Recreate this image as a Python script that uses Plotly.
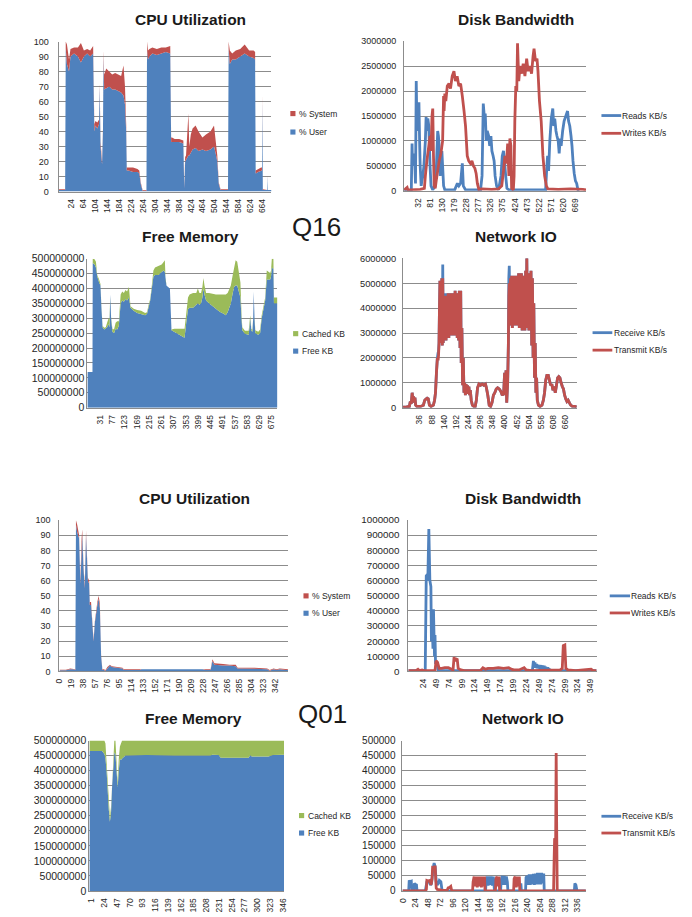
import plotly.graph_objects as go

# ---------------- data ----------------
# Q16 - CPU Utilization (stacked area: % User, % System)
cpu_q16_x = [-20, 2, 4, 8, 15, 20, 32, 45, 55, 65, 76, 86, 96, 100, 104, 110, 116, 118, 121, 126,
             129, 131, 133, 140, 150, 160, 170, 180, 190, 198, 203, 207, 209, 215, 230, 245, 251, 256, 262, 275,
             277, 280, 285, 295, 310, 325, 340, 355, 358, 361, 370, 385, 399, 402, 405, 408, 416, 419, 424, 430,
             440, 450, 463, 475, 490, 502, 508, 513, 518, 524, 549, 551, 555, 563, 575, 590, 605, 620, 635, 640,
             642, 650, 660, 663, 664, 666, 681, 682, 683, 695]
cpu_q16_user = [1, 1, 95, 85, 80, 90, 92, 90, 86, 90, 92, 90, 92, 40, 44, 42, 45, 70, 30, 18,
                40, 90, 68, 69, 70, 68, 68, 67, 66, 64, 58, 40, 14, 14, 13, 13, 12, 5, 0.5, 0.5,
                95, 88, 90, 92, 91, 92, 93, 92, 33, 33, 33, 33, 32, 2, 20, 21, 24, 24, 26, 28,
                29, 27, 28, 27, 28, 30, 25, 20, 5, 1, 1, 95, 85, 88, 88, 90, 92, 90, 89, 88,
                12, 13, 14, 14, 60, 1, 1, 10, 1, 1]
cpu_q16_system = [0.5, 0.5, 5, 13, 8, 5, 4, 6, 13, 4, 3, 4, 5, 5, 3, 4, 3, 2, 3, 2,
                  2, 4, 10, 13, 10, 10, 11, 11, 11, 20, 12, 5, 2, 2, 3, 2, 2, 1, 0.5, 0.5,
                  5, 6, 5, 4, 4, 4, 3, 5, 3, 3, 2, 2, 2, 1, 3, 3, 28, 6, 12, 14,
                  15, 13, 8, 11, 12, 14, 5, 4, 1, 0.5, 0.5, 5, 9, 4, 6, 5, 6, 4, 5, 5,
                  2, 2, 2, 2, 5, 0.5, 0, 1, 0, 0]
cpu_q16_ticks = [24, 64, 104, 144, 184, 224, 264, 304, 344, 384, 424, 464, 504, 544, 584, 624, 664]

# Q16 - Disk Bandwidth (KB/s)
disk_q16_read_x = [-25, 4, 7, 9, 11, 14, 17, 21, 24, 27, 31, 35, 38, 40, 44, 47, 51, 55, 61, 64,
                   67, 71, 75, 80, 84, 91, 101, 106, 111, 114, 117, 121, 124, 128, 131, 135, 140, 180, 191, 197,
                   204, 211, 215, 224, 285, 291, 296, 300, 304, 308, 312, 318, 322, 327, 331, 336, 340, 344, 350, 358,
                   368, 373, 378, 382, 387, 392, 400, 549, 553, 557, 561, 566, 572, 578, 582, 586, 591, 595, 600, 604,
                   608, 612, 618, 624, 631, 638, 642, 647, 652, 656, 660, 665, 670, 675, 680, 685]
disk_q16_read = [0, 0, 0.95e6, 0.5e6, 0.75e6, 0.6e6, 0.7e6, 0.15e6, 2.2e6, 1.2e6,
                 1.75e6, 1.75e6, 0.9e6, 0.5e6, 0.1e6, 0.2e6, 0.3e6, 0.5e6, 1.0e6, 1.48e6,
                 1.2e6, 1.45e6, 1.3e6, 0.5e6, 0.1e6, 0.02e6, 0.1e6, 0.5e6, 1.2e6, 1.1e6,
                 0.9e6, 0.3e6, 0.4e6, 0.8e6, 0.5e6, 0.1e6, 0.02e6, 0.02e6, 0.15e6, 0.1e6,
                 0.15e6, 0.55e6, 0.1e6, 0.02e6, 0.02e6, 0.3e6, 1.75e6, 1.5e6, 1.55e6, 1.0e6,
                 1.2e6, 1.1e6, 0.9e6, 1.1e6, 0.8e6, 0.7e6, 0.6e6, 0.3e6, 0.1e6, 0.02e6,
                 0.3e6, 0.7e6, 0.8e6, 0.6e6, 0.3e6, 0.05e6, 0.02e6, 0.02e6, 0.4e6, 0.7e6,
                 0.4e6, 1.0e6, 1.45e6, 1.65e6, 1.3e6, 1.45e6, 1.2e6, 1.1e6, 1.0e6, 0.75e6,
                 1.05e6, 0.9e6, 1.2e6, 1.4e6, 1.5e6, 1.6e6, 1.4e6, 1.3e6, 1.1e6, 0.9e6,
                 0.6e6, 0.35e6, 0.2e6, 0.15e6, 0.02e6, 0]
disk_q16_write_x = [-25, -13, -10, 4, 40, 57, 61, 67, 75, 80, 84, 88, 91, 94, 97, 101, 105, 111, 117, 124,
                    131, 135, 137, 140, 144, 150, 157, 163, 170, 177, 183, 190, 197, 204, 211, 218, 224, 231, 237, 244,
                    250, 256, 262, 267, 272, 278, 291, 330, 358, 371, 378, 384, 390, 395, 400, 404, 408, 411, 418, 421,
                    424, 428, 432, 435, 440, 445, 452, 458, 465, 472, 478, 485, 492, 498, 502, 508, 514, 518, 524, 531,
                    538, 545, 552, 558, 600, 650, 700, 713]
disk_q16_write = [0.02e6, 0.07e6, 0.02e6, 0.02e6, 0.03e6, 0.05e6, 0.3e6, 0.6e6, 0.9e6, 1.1e6,
                  0.8e6, 1.5e6, 1.65e6, 0.7e6, 0.1e6, 0.05e6, 0.2e6, 0.4e6, 0.6e6, 0.75e6,
                  1.0e6, 1.9e6, 1.6e6, 1.95e6, 1.8e6, 2.1e6, 2.15e6, 2.05e6, 2.3e6, 2.4e6,
                  2.2e6, 2.3e6, 2.1e6, 2.15e6, 1.9e6, 1.6e6, 1.3e6, 0.7e6, 0.6e6, 0.55e6,
                  0.6e6, 0.5e6, 0.45e6, 0.35e6, 0.15e6, 0.03e6, 0.04e6, 0.03e6, 0.04e6, 0.1e6,
                  0.4e6, 0.7e6, 0.55e6, 0.95e6, 0.3e6, 1.05e6, 0.9e6, 0.05e6, 0.02e6, 0.3e6,
                  1.4e6, 2.1e6, 2.0e6, 2.96e6, 2.2e6, 2.5e6, 2.35e6, 2.55e6, 2.3e6, 2.65e6,
                  2.4e6, 2.5e6, 2.35e6, 2.7e6, 2.85e6, 2.6e6, 2.65e6, 2.4e6, 1.8e6, 1.4e6,
                  0.7e6, 0.3e6, 0.1e6, 0.04e6, 0.03e6, 0.04e6, 0.03e6, 0.02e6]
disk_q16_ticks = [32, 81, 130, 179, 228, 277, 326, 375, 424, 473, 522, 571, 620, 669]

# Q16 - Free Memory (stacked area: Free KB, Cached KB)
mem_q16_x = [-17, 2, 3, 10, 15, 20, 27, 32, 36, 40, 46, 52, 57, 62, 66, 69, 72, 77, 83, 89,
             95, 101, 108, 114, 120, 126, 132, 139, 145, 151, 157, 170, 185, 200, 207, 213, 219, 225, 231, 237,
             250, 262, 270, 274, 277, 280, 286, 293, 299, 310, 325, 340, 348, 355, 361, 367, 380, 392, 398, 404,
             410, 415, 419, 423, 429, 440, 455, 466, 480, 495, 503, 510, 515, 522, 528, 534, 540, 546, 552, 558,
             562, 565, 575, 589, 592, 595, 599, 603, 606, 608, 611, 614, 625, 632, 638, 645, 651, 657, 664, 670,
             673, 676, 682, 684, 697]
mem_q16_free = [120e6, 120e6, 485e6, 480e6, 470e6, 440e6, 420e6, 410e6, 330e6, 270e6,
                262e6, 265e6, 270e6, 280e6, 270e6, 380e6, 300e6, 255e6, 250e6, 265e6,
                262e6, 275e6, 350e6, 360e6, 355e6, 365e6, 360e6, 370e6, 335e6, 330e6,
                325e6, 318e6, 315e6, 310e6, 315e6, 335e6, 360e6, 400e6, 440e6, 445e6,
                445e6, 455e6, 460e6, 455e6, 425e6, 410e6, 405e6, 400e6, 260e6, 255e6,
                248e6, 240e6, 235e6, 290e6, 330e6, 335e6, 335e6, 345e6, 350e6, 345e6,
                350e6, 370e6, 400e6, 380e6, 360e6, 350e6, 340e6, 330e6, 322e6, 315e6,
                310e6, 320e6, 330e6, 350e6, 380e6, 405e6, 410e6, 410e6, 390e6, 370e6,
                300e6, 260e6, 248e6, 245e6, 270e6, 300e6, 258e6, 255e6, 300e6, 390e6,
                300e6, 250e6, 245e6, 250e6, 300e6, 330e6, 360e6, 430e6, 430e6, 430e6,
                440e6, 470e6, 465e6, 350e6, 350e6]
mem_q16_cached = [0, 0, 15e6, 18e6, 20e6, 5e6, 10e6, 5e6, 5e6, 5e6,
                  6e6, 5e6, 15e6, 18e6, 30e6, 0, 5e6, 10e6, 12e6, 20e6,
                  28e6, 15e6, 30e6, 30e6, 30e6, 30e6, 30e6, 35e6, 5e6, 5e6,
                  7e6, 10e6, 10e6, 8e6, 5e6, 10e6, 5e6, 10e6, 20e6, 25e6,
                  30e6, 25e6, 30e6, 40e6, 0, 0, 0, 0, 2e6, 10e6,
                  17e6, 25e6, 30e6, 30e6, 40e6, 45e6, 50e6, 40e6, 50e6, 40e6,
                  35e6, 35e6, 35e6, 30e6, 25e6, 35e6, 42e6, 50e6, 58e6, 65e6,
                  70e6, 65e6, 65e6, 60e6, 60e6, 65e6, 85e6, 80e6, 70e6, 50e6,
                  20e6, 10e6, 10e6, 13e6, 15e6, 10e6, 7e6, 7e6, 0, 0,
                  5e6, 10e6, 10e6, 12e6, 10e6, 10e6, 10e6, 30e6, 25e6, 22e6,
                  20e6, 30e6, 35e6, 20e6, 20e6]
mem_q16_ticks = [31, 77, 123, 169, 215, 261, 307, 353, 399, 445, 491, 537, 583, 629, 675]

# Q16 - Network IO (KB/s)
net_q16_x = [-35, -20, -8, -4, 0, 4, 7, 10, 13, 16, 19, 24, 40, 52, 58, 63, 68, 73, 78, 85,
             95, 100, 104, 108, 112, 115, 117, 119, 121, 123, 125, 127, 129, 131, 133, 135, 137, 140, 143, 146,
             149, 152, 155, 158, 161, 164, 167, 170, 173, 176, 179, 182, 185, 188, 191, 194, 197, 200, 203, 206,
             209, 212, 214, 217, 220, 223, 226, 229, 232, 235, 238, 241, 244, 247, 250, 253, 257, 262, 268, 274,
             279, 284, 290, 297, 304, 311, 318, 322, 328, 334, 340, 346, 352, 358, 364, 370, 377, 384, 390, 396,
             400, 403, 406, 409, 413, 416, 418, 420, 422, 425, 427, 430, 433, 436, 439, 442, 445, 448, 451, 454,
             457, 460, 463, 466, 469, 472, 475, 478, 481, 484, 487, 490, 493, 495, 498, 501, 504, 507, 510, 513,
             516, 519, 522, 525, 528, 531, 534, 537, 540, 545, 552, 560, 566, 571, 576, 581, 587, 592, 597, 602,
             607, 612, 617, 622, 627, 632, 637, 642, 647, 652, 657, 662, 667, 672, 677, 683, 690, 700, 709]
net_q16_transmit = [0.02e6, 0.03e6, 0.05e6, 0.25e6, 0.15e6, 0.6e6, 0.3e6, 0.45e6, 0.2e6, 0.4e6,
                    0.1e6, 0.05e6, 0.05e6, 0.1e6, 0.3e6, 0.35e6, 0.38e6, 0.35e6, 0.1e6, 0.05e6,
                    0.1e6, 0.3e6, 0.6e6, 1.4e6, 2.0e6, 1.9e6, 2.1e6, 2.6e6, 4.0e6, 5.1e6,
                    3.2e6, 5.0e6, 2.6e6, 5.2e6, 2.5e6, 5.2e6, 2.6e6, 4.4e6, 2.7e6, 4.5e6,
                    2.7e6, 4.5e6, 2.8e6, 4.6e6, 2.8e6, 4.5e6, 2.9e6, 4.6e6, 2.9e6, 4.4e6,
                    2.9e6, 4.6e6, 2.9e6, 4.7e6, 2.9e6, 4.5e6, 2.8e6, 4.6e6, 2.7e6, 4.7e6,
                    2.4e6, 4.7e6, 1.8e6, 3.2e6, 0.9e6, 2.0e6, 0.6e6, 1.0e6, 0.5e6, 0.95e6,
                    0.55e6, 0.9e6, 0.6e6, 0.85e6, 0.5e6, 0.7e6, 0.3e6, 0.1e6, 0.05e6, 0.05e6,
                    0.3e6, 0.8e6, 0.95e6, 0.9e6, 0.95e6, 0.9e6, 0.95e6, 0.8e6, 0.5e6, 0.1e6,
                    0.05e6, 0.2e6, 0.5e6, 0.6e6, 0.75e6, 0.8e6, 0.75e6, 0.65e6, 0.5e6, 0.6e6,
                    1.4e6, 0.5e6, 1.5e6, 0.2e6, 1.0e6, 2.5e6, 4.5e6, 5.0e6, 3.4e6, 5.2e6,
                    3.3e6, 5.3e6, 3.2e6, 5.3e6, 3.4e6, 5.2e6, 3.3e6, 5.3e6, 3.5e6, 5.3e6,
                    3.3e6, 5.4e6, 3.2e6, 5.2e6, 3.3e6, 5.4e6, 3.1e6, 5.3e6, 3.2e6, 5.2e6,
                    3.1e6, 5.5e6, 3.3e6, 6.0e6, 3.2e6, 5.4e6, 3.1e6, 5.4e6, 3.2e6, 5.5e6,
                    2.5e6, 5.2e6, 2.0e6, 4.2e6, 1.2e6, 2.6e6, 0.6e6, 1.2e6, 0.3e6, 0.1e6,
                    0.05e6, 0.1e6, 0.3e6, 0.6e6, 1.1e6, 1.3e6, 1.3e6, 1.1e6, 0.9e6, 0.95e6,
                    0.7e6, 0.85e6, 0.6e6, 0.9e6, 1.2e6, 1.25e6, 1.2e6, 1.0e6, 0.85e6, 0.75e6,
                    0.5e6, 0.35e6, 0.25e6, 0.3e6, 0.2e6, 0.1e6, 0.05e6, 0.05e6, 0.03e6]
net_q16_receive = [0.02e6, 0.03e6, 0.05e6, 0.25e6, 0.15e6, 0.6e6, 0.3e6, 0.45e6, 0.2e6, 0.4e6,
                   0.1e6, 0.05e6, 0.05e6, 0.1e6, 0.3e6, 0.35e6, 0.38e6, 0.35e6, 0.1e6, 0.05e6,
                   0.1e6, 0.3e6, 0.6e6, 1.4e6, 2.0e6, 2.2e6, 2.25e6, 2.6e6, 4.0e6, 5.1e6,
                   3.2e6, 5.0e6, 2.6e6, 5.2e6, 2.5e6, 5.75e6, 2.6e6, 4.4e6, 2.7e6, 4.6e6,
                   2.7e6, 4.6e6, 2.8e6, 4.6e6, 2.8e6, 4.5e6, 2.9e6, 4.6e6, 2.9e6, 4.4e6,
                   2.9e6, 4.6e6, 2.9e6, 4.7e6, 2.9e6, 4.5e6, 2.8e6, 4.6e6, 2.7e6, 4.7e6,
                   2.4e6, 4.7e6, 1.8e6, 3.2e6, 0.9e6, 2.0e6, 0.6e6, 1.0e6, 0.5e6, 0.95e6,
                   0.55e6, 0.9e6, 0.6e6, 0.85e6, 0.5e6, 0.7e6, 0.3e6, 0.1e6, 0.05e6, 0.05e6,
                   0.3e6, 0.8e6, 0.95e6, 0.9e6, 0.95e6, 0.9e6, 0.95e6, 0.8e6, 0.5e6, 0.1e6,
                   0.05e6, 0.2e6, 0.5e6, 0.6e6, 0.75e6, 0.8e6, 0.75e6, 0.65e6, 0.5e6, 0.6e6,
                   1.4e6, 0.5e6, 1.5e6, 0.2e6, 1.0e6, 2.5e6, 5.2e6, 5.7e6, 3.4e6, 5.2e6,
                   3.3e6, 5.3e6, 3.2e6, 5.3e6, 3.4e6, 5.2e6, 3.3e6, 5.3e6, 3.5e6, 5.3e6,
                   3.3e6, 5.4e6, 3.2e6, 5.2e6, 3.3e6, 5.4e6, 3.1e6, 5.3e6, 3.2e6, 5.2e6,
                   3.1e6, 5.5e6, 3.3e6, 6.0e6, 3.2e6, 5.4e6, 3.1e6, 5.4e6, 3.2e6, 5.5e6,
                   2.5e6, 5.2e6, 2.0e6, 4.2e6, 1.2e6, 2.6e6, 0.6e6, 1.2e6, 0.3e6, 0.1e6,
                   0.05e6, 0.1e6, 0.3e6, 0.6e6, 1.1e6, 1.3e6, 1.3e6, 1.1e6, 0.9e6, 0.95e6,
                   0.7e6, 0.85e6, 0.6e6, 0.9e6, 1.2e6, 1.25e6, 1.2e6, 1.0e6, 0.85e6, 0.75e6,
                   0.5e6, 0.35e6, 0.25e6, 0.3e6, 0.2e6, 0.1e6, 0.05e6, 0.05e6, 0.03e6]
net_q16_ticks = [36, 88, 140, 192, 244, 296, 348, 400, 452, 504, 556, 608, 660]

# Q01 - CPU Utilization
cpu_q01_x = [0, 10, 17, 22, 25, 26, 28, 31, 33, 35, 36, 38, 40, 42, 43, 45, 47, 48, 50, 52,
             54, 56, 58, 60, 62, 64, 66, 68, 70, 73, 76, 80, 83, 90, 100, 102, 128, 130, 227, 232,
             240, 243, 246, 260, 270, 280, 283, 290, 310, 330, 334, 340, 345, 350, 360, 363]
cpu_q01_user = [0.8, 0.8, 1.5, 1.5, 1, 97, 92, 88, 58, 85, 90, 68, 55, 90, 82, 60, 58, 44, 44, 30,
                20, 32, 40, 44, 48, 42, 10, 1, 1, 0.5, 2, 4, 3, 2.5, 2, 1, 1, 1.5, 1.5, 1,
                1, 7, 4.5, 4, 4, 3.5, 2, 2, 2, 1.5, 0.5, 1.5, 1, 1.5, 1, 1]
cpu_q01_system = [0.4, 0.4, 0.5, 0.5, 0.5, 3, 5, 2, 2, 3, 4, 2, 2, 3, 3, 2, 2, 2, 2, 1,
                  1, 1, 2, 2, 2, 3, 1, 0.5, 0.5, 0.5, 1, 0.5, 0.5, 0.5, 0.5, 0.5, 0.5, 0.5, 0.5, 0.5,
                  0.5, 1, 1, 1, 0.5, 1, 0.5, 0.5, 0.5, 0.5, 0.5, 0.5, 0.5, 0.5, 0.5, 0.5]
cpu_q01_ticks = [0, 19, 38, 57, 76, 95, 114, 133, 152, 171, 190, 209, 228, 247, 266, 285, 304, 323, 342]

# Q01 - Disk Bandwidth (KB/s)
disk_q01_read_x = [-5, 28, 30, 32, 33, 35, 37, 39, 40, 42, 43, 44, 45, 46, 47, 48, 50, 53, 56, 236,
                   238, 239, 241, 242, 244, 245, 247, 248, 250, 251, 253, 254, 256, 257, 259, 260, 262, 264, 266, 268,
                   270, 273, 361]
disk_q01_read = [5e3, 5e3, 630e3, 640e3, 600e3, 940e3, 600e3, 560e3, 200e3, 260e3,
                 150e3, 410e3, 250e3, 100e3, 240e3, 50e3, 70e3, 10e3, 5e3, 5e3,
                 70e3, 30e3, 60e3, 25e3, 50e3, 20e3, 45e3, 20e3, 40e3, 15e3,
                 42e3, 20e3, 40e3, 18e3, 38e3, 15e3, 30e3, 10e3, 25e3, 10e3,
                 12e3, 5e3, 5e3]
disk_q01_write_x = [-5, 10, 14, 17, 22, 26, 47, 49, 52, 55, 60, 66, 73, 79, 82, 84, 86, 88, 90, 92,
                    97, 104, 135, 140, 145, 150, 160, 170, 180, 190, 195, 200, 210, 220, 224, 233, 290, 294, 296, 299,
                    301, 305, 320, 335, 350, 354, 361]
disk_q01_write = [5e3, 5e3, 15e3, 5e3, 10e3, 5e3, 5e3, 70e3, 60e3, 20e3,
                  20e3, 25e3, 25e3, 15e3, 10e3, 95e3, 70e3, 80e3, 85e3, 20e3,
                  10e3, 5e3, 5e3, 25e3, 15e3, 20e3, 20e3, 25e3, 20e3, 25e3,
                  15e3, 10e3, 10e3, 25e3, 10e3, 5e3, 10e3, 20e3, 170e3, 175e3,
                  20e3, 10e3, 5e3, 10e3, 15e3, 5e3, 5e3]
disk_q01_ticks = [24, 49, 74, 99, 124, 149, 174, 199, 224, 249, 274, 299, 324, 349]

# Q01 - Free Memory
mem_q01_x = [-3, 20, 24, 26, 28, 30, 32, 34, 36, 38, 40, 42, 44, 46, 48, 50, 52, 54, 56, 62,
             100, 150, 200, 215, 219, 230, 234, 260, 284, 287, 290, 320, 328, 348]
mem_q01_free = [465e6, 465e6, 455e6, 440e6, 400e6, 320e6, 270e6, 230e6, 260e6, 350e6,
                430e6, 460e6, 455e6, 400e6, 345e6, 400e6, 440e6, 435e6, 440e6, 450e6,
                452e6, 450e6, 450e6, 450e6, 453e6, 452e6, 443e6, 443e6, 443e6, 451e6,
                447e6, 447e6, 452e6, 453e6]
mem_q01_cached = [35e6, 35e6, 45e6, 50e6, 30e6, 20e6, 15e6, 15e6, 20e6, 20e6,
                  30e6, 40e6, 45e6, 30e6, 15e6, 40e6, 40e6, 55e6, 60e6, 50e6,
                  48e6, 50e6, 50e6, 50e6, 47e6, 48e6, 57e6, 57e6, 57e6, 49e6,
                  53e6, 53e6, 48e6, 47e6]
mem_q01_ticks = [1, 24, 47, 70, 93, 116, 139, 162, 185, 208, 231, 254, 277, 300, 323, 346]

# Q01 - Network IO (KB/s)
net_q01_receive_x = [-1, 11, 12, 14, 16, 17, 18, 21, 22, 24, 26, 27, 43, 46, 50, 53, 55, 57, 59, 60,
                     62, 64, 66, 68, 70, 72, 73, 75, 76, 159, 160, 162, 164, 166, 168, 170, 172, 174, 176, 177,
                     188, 189, 191, 193, 195, 197, 199, 201, 202, 226, 227, 228, 235, 236, 237, 239, 241, 243, 245, 247,
                     249, 251, 253, 255, 257, 259, 261, 263, 265, 267, 269, 271, 272, 330, 331, 333, 335, 352]
net_q01_receive = [0, 0, 35e3, 30e3, 32e3, 5e3, 0, 0, 25e3, 22e3,
                   20e3, 0, 0, 30e3, 32e3, 20e3, 25e3, 60e3, 85e3, 93e3,
                   80e3, 30e3, 20e3, 25e3, 35e3, 32e3, 30e3, 5e3, 0, 0,
                   30e3, 48e3, 18e3, 48e3, 20e3, 48e3, 18e3, 48e3, 5e3, 0,
                   0, 35e3, 50e3, 20e3, 50e3, 20e3, 48e3, 30e3, 0, 0,
                   25e3, 0, 0, 0, 45e3, 50e3, 20e3, 55e3, 20e3, 55e3,
                   22e3, 57e3, 20e3, 58e3, 22e3, 60e3, 22e3, 60e3, 22e3, 60e3,
                   25e3, 58e3, 0, 0, 25e3, 20e3, 0, 0]
net_q01_transmit_x = [-1, 43, 45, 46, 49, 52, 54, 56, 57, 59, 60, 62, 63, 64, 66, 75, 85, 87, 90, 92,
                      94, 134, 135, 137, 139, 141, 143, 145, 147, 149, 151, 153, 155, 157, 158, 178, 179, 181, 183, 185,
                      186, 213, 214, 216, 218, 220, 222, 224, 225, 290, 291, 292, 294, 295, 296, 297, 352]
net_q01_transmit = [0, 0, 5e3, 35e3, 33e3, 35e3, 20e3, 40e3, 77e3, 75e3,
                    80e3, 80e3, 40e3, 10e3, 5e3, 3e3, 2e3, 10e3, 12e3, 15e3,
                    0, 0, 30e3, 48e3, 15e3, 48e3, 12e3, 48e3, 15e3, 48e3,
                    12e3, 48e3, 15e3, 48e3, 0, 0, 40e3, 48e3, 15e3, 48e3,
                    0, 0, 40e3, 48e3, 12e3, 48e3, 15e3, 48e3, 0, 0,
                    100e3, 175e3, 170e3, 459e3, 200e3, 0, 0]
net_q01_ticks = [0, 24, 48, 72, 96, 120, 144, 168, 192, 216, 240, 264, 288, 312, 336]

cpu_labels = ["% System", "% User"]
disk_labels = ["Reads KB/s", "Writes KB/s"]
mem_labels = ["Cached KB", "Free KB"]
net_labels = ["Receive KB/s", "Transmit KB/s"]
titles = ["CPU Utilization", "Disk Bandwidth", "Free Memory", "Network IO"]
sections = ["Q16", "Q01"]

# ---------------- styling / layout ----------------
W, H = 692, 917
BLUE, RED, GREEN = "#4F81BD", "#C0504D", "#9BBB59"
GRID = "#8C8C8C"
TXT = "#262626"
FONT = "Liberation Sans, Arial, sans-serif"


def fx(px):
    return px / W


def fy(py):
    return 1 - py / H


fig = go.Figure()
annotations = []
shapes = []

panels = [
    dict(n=1, box=(54.3, 36, 270, 188), xr=[-20, 695], ticks=cpu_q16_ticks, yr=[0, 100], dt=10,
         yfs=9, ysd=7, title=(titles[0], 187.7, 14),
         leg=("sq", cpu_labels, [RED, BLUE], 291.7, [109, 127.7], 296)),
    dict(n=2, box=(404.3, 35.7, 588.7, 187.3), xr=[-25.5, 713], ticks=disk_q16_ticks, yr=[0, 3e6], dt=5e5,
         yfs=9, ysd=5, title=(titles[1], 518, 14),
         leg=("ln", disk_labels, [BLUE, RED], (604.3, 624.3), [111, 129], 623.5)),
    dict(n=3, box=(83.5, 256, 276, 407), xr=[-17, 697], ticks=mem_q16_ticks, yr=[0, 5e8], dt=5e7,
         yfs=10.5, ysd=0, title=(titles[2], 187.8, 234),
         leg=("sq", mem_labels, [GREEN, BLUE], 294.5, [332, 349.7], 298.5)),
    dict(n=4, box=(403.3, 255.7, 579.3, 407), xr=[-35, 709], ticks=net_q16_ticks, yr=[0, 6e6], dt=1e6,
         yfs=9.3, ysd=4, title=(titles[3], 517.3, 234),
         leg=("ln", net_labels, [BLUE, RED], (595.3, 615.3), [331, 348.7], 614.5)),
    dict(n=5, box=(55, 521, 287, 674.3), xr=[-0.5, 363.5], ticks=cpu_q01_ticks, yr=[0, 100], dt=10,
         yfs=9, ysd=6, title=(titles[0], 192, 499),
         leg=("sq", cpu_labels, [RED, BLUE], 305, [597.7, 615.3], 309.5)),
    dict(n=6, box=(408.7, 520.7, 599.3, 674.3), xr=[-4.7, 360.5], ticks=disk_q01_ticks, yr=[0, 1e6], dt=1e5,
         yfs=9.8, ysd=6, title=(titles[1], 524.7, 499),
         leg=("ln", disk_labels, [BLUE, RED], (612.7, 633.3), [597.7, 615], 632.5)),
    dict(n=7, box=(85.5, 744.3, 282.7, 896.7), xr=[-3, 348], ticks=mem_q01_ticks, yr=[0, 5e8], dt=5e7,
         yfs=10.5, ysd=0, title=(titles[2], 191.2, 722),
         leg=("sq", mem_labels, [GREEN, BLUE], 300.5, [820.3, 838], 304.5)),
    dict(n=8, box=(402.7, 744.3, 588.7, 896.7), xr=[-1, 352.5], ticks=net_q01_ticks, yr=[0, 5e5], dt=5e4,
         yfs=10, ysd=4, title=(titles[3], 524.7, 722),
         leg=("ln", net_labels, [BLUE, RED], (604.3, 624.3), [821, 838], 623.5)),
]

layout_axes = {}
for p in panels:
    n = p["n"]
    sfx = "" if n == 1 else str(n)
    l, t, r, b = p["box"]
    layout_axes["xaxis" + sfx] = dict(
        domain=[fx(l), fx(r)], range=p["xr"], anchor="y" + sfx,
        tickmode="array", tickvals=p["ticks"], ticktext=[str(v) for v in p["ticks"]],
        tickangle=-90, tickfont=dict(size=8.5, color=TXT, family=FONT),
        showgrid=False, zeroline=False, showline=True, linecolor=GRID, linewidth=1,
        ticks="", ticklabelstandoff=3, fixedrange=True)
    layout_axes["yaxis" + sfx] = dict(
        domain=[fy(b), fy(t)], range=p["yr"], anchor="x" + sfx,
        tickmode="linear", tick0=0, dtick=p["dt"], tickformat="d",
        tickfont=dict(size=p["yfs"], color=TXT, family=FONT),
        showgrid=True, gridcolor=GRID, gridwidth=1, zeroline=False,
        showline=True, linecolor=GRID, linewidth=1, ticks="",
        ticklabelstandoff=p["ysd"], fixedrange=True)

    txt, tx, ty = p["title"]
    annotations.append(dict(text="<b>" + txt + "</b>", x=fx(tx), y=fy(ty), xref="paper", yref="paper",
                            xanchor="center", yanchor="middle", showarrow=False,
                            font=dict(size=15.5, color="#1a1a1a", family=FONT)))
    kind, labels, colors, sx, ys, textx = p["leg"]
    for lab, col, yy in zip(labels, colors, ys):
        if kind == "sq":
            shapes.append(dict(type="rect", xref="paper", yref="paper",
                               x0=fx(sx - 2.6), x1=fx(sx + 2.6), y0=fy(yy + 2.6), y1=fy(yy - 2.6),
                               fillcolor=col, line=dict(width=0)))
        else:
            shapes.append(dict(type="line", xref="paper", yref="paper",
                               x0=fx(sx[0]), x1=fx(sx[1]), y0=fy(yy), y1=fy(yy),
                               line=dict(color=col, width=2.8)))
        annotations.append(dict(text=lab, x=fx(textx), y=fy(yy), xref="paper", yref="paper",
                                xanchor="left", yanchor="middle", showarrow=False,
                                font=dict(size=8.5, color=TXT, family=FONT)))


def area(x, y, color, n, group):
    sfx = "" if n == 1 else str(n)
    fig.add_trace(go.Scatter(x=x, y=y, mode="lines", stackgroup=group, line=dict(width=0, color=color),
                             fillcolor=color, showlegend=False, hoverinfo="skip",
                             xaxis="x" + sfx, yaxis="y" + sfx))


def line(x, y, color, n):
    sfx = "" if n == 1 else str(n)
    fig.add_trace(go.Scatter(x=x, y=y, mode="lines", line=dict(width=2.8, color=color, simplify=False),
                             showlegend=False, hoverinfo="skip", xaxis="x" + sfx, yaxis="y" + sfx))


area(cpu_q16_x, cpu_q16_user, BLUE, 1, "cpu16")
area(cpu_q16_x, cpu_q16_system, RED, 1, "cpu16")
line(disk_q16_read_x, disk_q16_read, BLUE, 2)
line(disk_q16_write_x, disk_q16_write, RED, 2)
area(mem_q16_x, mem_q16_free, BLUE, 3, "mem16")
area(mem_q16_x, mem_q16_cached, GREEN, 3, "mem16")
line(net_q16_x, net_q16_receive, BLUE, 4)
line(net_q16_x, net_q16_transmit, RED, 4)
area(cpu_q01_x, cpu_q01_user, BLUE, 5, "cpu01")
area(cpu_q01_x, cpu_q01_system, RED, 5, "cpu01")
line(disk_q01_read_x, disk_q01_read, BLUE, 6)
line(disk_q01_write_x, disk_q01_write, RED, 6)
area(mem_q01_x, mem_q01_free, BLUE, 7, "mem01")
area(mem_q01_x, mem_q01_cached, GREEN, 7, "mem01")
line(net_q01_receive_x, net_q01_receive, BLUE, 8)
line(net_q01_transmit_x, net_q01_transmit, RED, 8)

for lab, cx, cy in zip(sections, [316, 322], [224, 717]):
    annotations.append(dict(text=lab, x=fx(cx), y=fy(cy), xref="paper", yref="paper", xanchor="center",
                            yanchor="middle", showarrow=False, font=dict(size=26, color="#1a1a1a", family=FONT)))

fig.update_layout(width=W, height=H, margin=dict(l=0, r=0, t=0, b=0, pad=0), autosize=False,
                  paper_bgcolor="white", plot_bgcolor="white", showlegend=False,
                  annotations=annotations, shapes=shapes, font=dict(family=FONT, color=TXT),
                  **layout_axes)

fig.write_html("out.html", include_plotlyjs=True,
               config={"displayModeBar": False, "staticPlot": True},
               post_script="document.body.style.margin='0px';document.body.style.overflow='hidden';")
